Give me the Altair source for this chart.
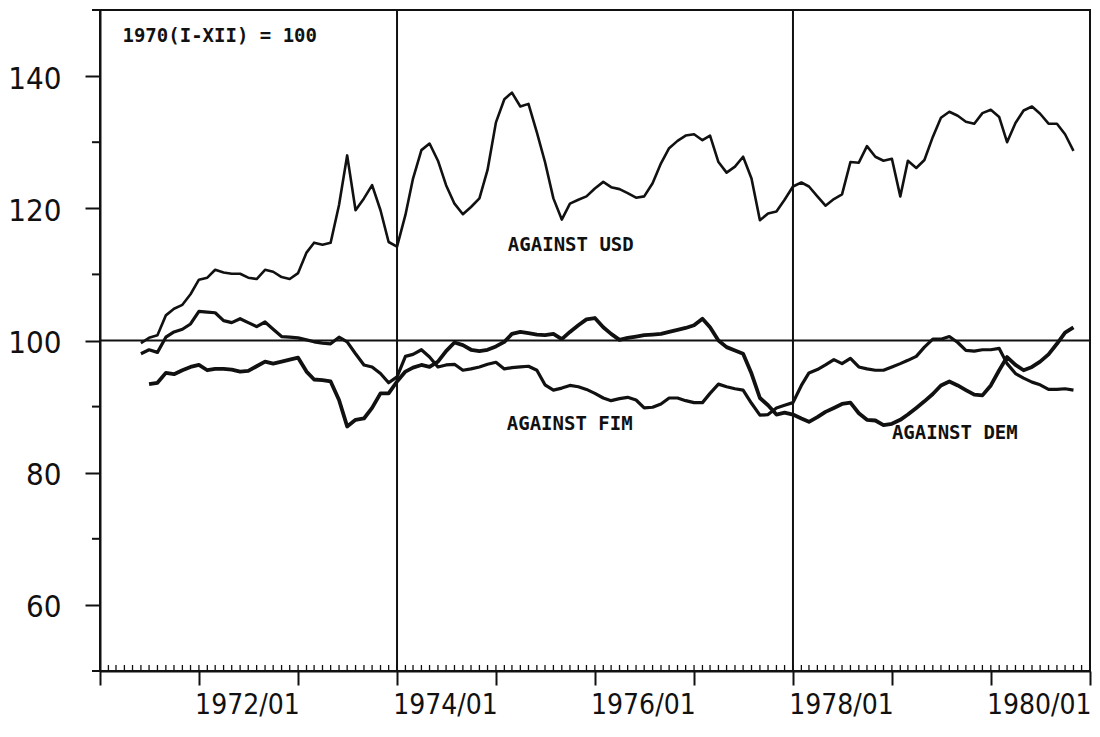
import altair as alt
import pandas as pd

# Monthly index values, 1970(I-XII) = 100
usd = [99.6, 100.4, 100.8, 103.8, 104.8, 105.4, 107.0,
       109.2, 109.5, 110.7, 110.3, 110.1, 110.1, 109.5, 109.3, 110.7, 110.4, 109.6, 109.3,
       110.2, 113.3, 114.8, 114.5, 114.8, 120.5, 128.0, 119.7, 121.5, 123.5, 119.7, 114.9,
       114.2, 119.0, 124.5, 128.8, 129.8, 127.2, 123.5, 120.7, 119.1, 120.2, 121.5, 125.8,
       133.0, 136.5, 137.5, 135.4, 135.8, 131.5, 127.0, 121.5, 118.3, 120.7, 121.3, 121.8,
       123.0, 124.0, 123.2, 122.9, 122.3, 121.6, 121.8, 123.8, 126.8, 129.1, 130.2, 131.0,
       131.2, 130.3, 131.0, 127.0, 125.4, 126.3, 127.8, 124.5, 118.2, 119.2, 119.5, 121.3,
       123.3, 123.9, 123.3, 121.8, 120.4, 121.4, 122.1, 127.0, 126.9, 129.4, 127.8, 127.2,
       127.5, 121.8, 127.2, 126.1, 127.3, 130.8, 133.7, 134.6, 134.0, 133.1, 132.8, 134.4,
       134.9, 133.8, 130.0, 132.9, 134.8, 135.4, 134.3, 132.8, 132.8, 131.2, 128.7]

fim = [98.0, 98.6, 98.2, 100.5, 101.3, 101.7, 102.5,
       104.4, 104.3, 104.2, 103.0, 102.7, 103.3, 102.7, 102.1, 102.8, 101.7, 100.6, 100.5,
       100.4, 100.1, 99.8, 99.6, 99.5, 100.5, 99.8, 98.0, 96.3, 96.0, 95.0, 93.6,
       94.5, 97.6, 97.9, 98.6, 97.5, 96.0, 96.3, 96.4, 95.5, 95.7, 96.0, 96.4,
       96.7, 95.7, 95.9, 96.0, 96.1, 95.5, 93.3, 92.5, 92.8, 93.2, 93.0, 92.6,
       92.0, 91.3, 90.9, 91.2, 91.4, 91.0, 89.8, 89.9, 90.4, 91.3, 91.3, 90.9,
       90.6, 90.6, 92.0, 93.4, 93.0, 92.7, 92.5, 90.5, 88.7, 88.8, 89.8, 90.2,
       90.6, 93.2, 95.1, 95.6, 96.3, 97.1, 96.5, 97.3, 96.0, 95.7, 95.5, 95.5,
       96.0, 96.5, 97.0, 97.6, 99.0, 100.2, 100.2, 100.6, 99.7, 98.5, 98.4, 98.6,
       98.6, 98.8, 96.5, 95.0, 94.3, 93.7, 93.3, 92.6, 92.6, 92.7, 92.5]

dem = [93.4, 93.6, 95.1, 94.9, 95.5, 96.0,
       96.3, 95.5, 95.7, 95.7, 95.6, 95.3, 95.4, 96.1, 96.8, 96.5, 96.8, 97.1,
       97.4, 95.3, 94.1, 94.0, 93.8, 91.0, 87.0, 88.0, 88.2, 89.8, 92.0, 92.0,
       93.8, 95.3, 95.9, 96.3, 96.0, 96.8, 98.4, 99.7, 99.3, 98.6, 98.4, 98.6,
       99.1, 99.8, 101.0, 101.3, 101.1, 100.9, 100.8, 101.0, 100.2, 101.3, 102.3, 103.2,
       103.4, 102.0, 101.0, 100.1, 100.4, 100.6, 100.8, 100.9, 101.0, 101.3, 101.6, 101.9,
       102.3, 103.3, 102.0, 100.0, 99.0, 98.5, 98.0, 95.0, 91.3, 90.2, 88.8, 89.1,
       88.8, 88.2, 87.7, 88.4, 89.2, 89.8, 90.4, 90.6, 89.0, 88.0, 87.9, 87.2,
       87.4, 88.0, 88.8, 89.8, 90.8, 91.9, 93.2, 93.8, 93.2, 92.5, 91.8, 91.7,
       93.2, 95.5, 97.5, 96.3, 95.5, 96.0, 96.8, 97.9, 99.5, 101.2, 102.0]

usd_fim_start = "1971-06-01"
dem_start = "1971-07-01"

year_ticks = list(range(1971, 1982))
y_label_values = [60, 80, 100, 120, 140]
y_minor_values = [50, 70, 90, 110, 130, 150]
divider_dates = ["1974-01-01", "1978-01-01"]

labels = ["1970(I-XII) = 100", "AGAINST USD", "AGAINST FIM", "AGAINST DEM"]
label_dates = ["1971-03-25", "1975-02-14", "1975-02-10", "1979-01-01"]
label_values = [146.0, 114.4, 87.4, 86.0]

# ---- build tables
m_main = pd.date_range(usd_fim_start, periods=len(usd), freq="MS")
m_dem = pd.date_range(dem_start, periods=len(dem), freq="MS")
df = pd.concat([
    pd.DataFrame({"date": m_main, "value": usd, "series": "USD"}),
    pd.DataFrame({"date": m_main, "value": fim, "series": "FIM"}),
    pd.DataFrame({"date": m_dem, "value": dem, "series": "DEM"}),
], ignore_index=True)

month_ticks = pd.DataFrame({"date": pd.date_range("1971-01-01", "1981-01-01", freq="MS")})
ytick_df = pd.DataFrame({"value": y_minor_values})
vline_df = pd.DataFrame({"date": pd.to_datetime(divider_dates)})
hline_df = pd.DataFrame({"value": [100]})
text_df = pd.DataFrame({"label": labels, "date": pd.to_datetime(label_dates), "value": label_values})

W, H = 990, 661
LABEL_FONT = "Liberation Sans Narrow, DejaVu Sans Condensed, Arial Narrow, sans-serif"
MONO = "DejaVu Sans Mono, Liberation Mono, monospace"

xscale = alt.Scale(domain=[alt.DateTime(year=1971, month=1, date=1),
                           alt.DateTime(year=1981, month=1, date=1)])
yscale = alt.Scale(domain=[50, 150], nice=False, zero=False)

xaxis = alt.Axis(
    title=None,
    values=[alt.DateTime(year=y, month=1, date=1) for y in year_ticks],
    labelExpr="year(datum.value) % 2 == 0 ? timeFormat(datum.value, '%Y/%m') : ''",
    tickSize=14, tickWidth=2, tickColor="#111",
    domainColor="#111", domainWidth=2,
    labelFont=LABEL_FONT, labelFontSize=28, labelColor="#111",
    labelOffset=48, labelPadding=6, labelOverlap=False, labelFlush=False,
    labelBound=False, grid=False,
)
yaxis = alt.Axis(
    title=None, values=y_label_values,
    tickSize=15, tickWidth=2, tickColor="#111",
    domainColor="#111", domainWidth=2,
    labelFont=LABEL_FONT, labelFontSize=31, labelColor="#111",
    labelPadding=24, labelOffset=3, grid=False,
)

X = alt.X("date:T", scale=xscale, axis=xaxis)
Y = alt.Y("value:Q", scale=yscale, axis=yaxis)

lines = alt.Chart(df).mark_line(color="#111", strokeJoin="round").encode(
    x=X, y=Y,
    detail="series:N",
    strokeWidth=alt.StrokeWidth("series:N", legend=None,
                                scale=alt.Scale(domain=["USD", "FIM", "DEM"], range=[2.6, 3.8, 1.3])),
)

mticks = alt.Chart(month_ticks).mark_rule(color="#111", strokeWidth=1.3).encode(
    x=X, y=alt.value(H), y2=alt.value(H - 6),
)

yticks = alt.Chart(ytick_df).mark_rule(color="#111", strokeWidth=2).encode(
    y=Y, x=alt.value(-8), x2=alt.value(0),
)

vlines = alt.Chart(vline_df).mark_rule(color="#111", strokeWidth=2).encode(x=X)

hline = alt.Chart(hline_df).mark_rule(color="#111", strokeWidth=1.8).encode(y=Y)

texts = alt.Chart(text_df).mark_text(
    align="left", baseline="middle", font=MONO, fontSize=19, fontWeight="bold", color="#111"
).encode(x=X, y=Y, text="label:N")

chart = alt.layer(hline, vlines, mticks, yticks, lines, texts).properties(
    width=W, height=H,
    autosize=alt.AutoSizeParams(type="none"),
    padding={"left": 92, "top": 2, "right": 2, "bottom": 53},
    background="white",
).configure_view(stroke="#111", strokeWidth=2)

chart.save("out.html", embed_options={"renderer": "svg", "actions": False})
